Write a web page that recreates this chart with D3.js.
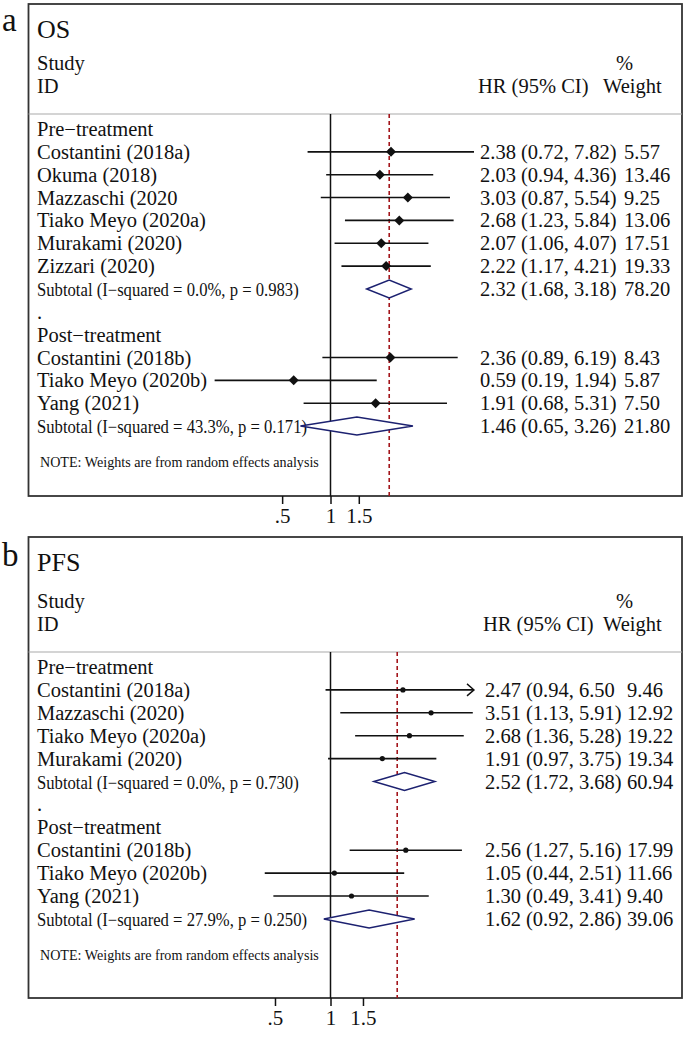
<!DOCTYPE html>
<html>
<head>
<meta charset="utf-8">
<script src="https://cdn.jsdelivr.net/npm/d3@7/dist/d3.min.js"></script>
<style>
  html, body { margin: 0; padding: 0; background: #fff; }
  svg { display: block; }
  text { font-family: "Liberation Serif", "Times New Roman", serif; fill: #111; }
</style>
</head>
<body>
<svg id="chart" width="685" height="1051"></svg>
<script>
// ---------- DATA ----------
const osLabels = ["Pre−treatment", "Costantini (2018a)", "Okuma  (2018)", "Mazzaschi (2020", "Tiako Meyo (2020a)", "Murakami (2020)", "Zizzari (2020)", "Subtotal  (I−squared = 0.0%, p = 0.983)", ".", "Post−treatment", "Costantini (2018b)", "Tiako Meyo (2020b)", "Yang (2021)", "Subtotal  (I−squared = 43.3%, p = 0.171)"];
const osTypes = ["group", "study", "study", "study", "study", "study", "study", "subtotal", "dot", "group", "study", "study", "study", "subtotal"];
const osHR = [null, 2.38, 2.03, 3.03, 2.68, 2.07, 2.22, 2.32, null, null, 2.36, 0.59, 1.91, 1.46];
const osLow = [null, 0.72, 0.94, 0.87, 1.23, 1.06, 1.17, 1.68, null, null, 0.89, 0.19, 0.68, 0.65];
const osHigh = [null, 7.82, 4.36, 5.54, 5.84, 4.07, 4.21, 3.18, null, null, 6.19, 1.94, 5.31, 3.26];
const osCI = ["", "2.38 (0.72, 7.82)", "2.03 (0.94, 4.36)", "3.03 (0.87, 5.54)", "2.68 (1.23, 5.84)", "2.07 (1.06, 4.07)", "2.22 (1.17, 4.21)", "2.32 (1.68, 3.18)", "", "", "2.36 (0.89, 6.19)", "0.59 (0.19, 1.94)", "1.91 (0.68, 5.31)", "1.46 (0.65, 3.26)"];
const osWeight = ["", "5.57", "13.46", "9.25", "13.06", "17.51", "19.33", "78.20", "", "", "8.43", "5.87", "7.50", "21.80"];
const osOverall = 2.32;
const osAxisMax = 7.82;

const pfsLabels = ["Pre−treatment", "Costantini (2018a)", "Mazzaschi (2020)", "Tiako Meyo (2020a)", "Murakami (2020)", "Subtotal  (I−squared = 0.0%, p = 0.730)", ".", "Post−treatment", "Costantini (2018b)", "Tiako Meyo (2020b)", "Yang (2021)", "Subtotal  (I−squared = 27.9%, p = 0.250)"];
const pfsTypes = ["group", "study", "study", "study", "study", "subtotal", "dot", "group", "study", "study", "study", "subtotal"];
const pfsHR = [null, 2.47, 3.51, 2.68, 1.91, 2.52, null, null, 2.56, 1.05, 1.30, 1.62];
const pfsLow = [null, 0.94, 1.13, 1.36, 0.97, 1.72, null, null, 1.27, 0.44, 0.49, 0.92];
const pfsHigh = [null, 6.50, 5.91, 5.28, 3.75, 3.68, null, null, 5.16, 2.51, 3.41, 2.86];
const pfsCI = ["", "2.47 (0.94, 6.50", "3.51 (1.13, 5.91)", "2.68 (1.36, 5.28)", "1.91 (0.97, 3.75)", "2.52 (1.72, 3.68)", "", "", "2.56 (1.27, 5.16)", "1.05 (0.44, 2.51)", "1.30 (0.49, 3.41)", "1.62 (0.92, 2.86)"];
const pfsWeight = ["", "9.46", "12.92", "19.22", "19.34", "60.94", "", "", "17.99", "11.66", "9.40", "39.06"];
const pfsOverall = 2.3;
const pfsAxisMax = 6;

const tickValues = [0.5, 1, 1.5];
const tickLabels = [".5", "1", "1.5"];
const noteText = "NOTE: Weights are from random effects analysis";

// ---------- DRAW ----------
const svg = d3.select("#chart");
const FS = 20.5;

function squeeze(sel, factor) {
  sel.each(function () {
    const w = this.getComputedTextLength();
    d3.select(this).attr("textLength", w * factor).attr("lengthAdjust", "spacingAndGlyphs");
  });
}

function panel(cfg) {
  const g = svg.append("g");
  const rows = cfg.labels.map((l, i) => ({
    label: l, type: cfg.types[i], hr: cfg.hr[i], lo: cfg.lo[i], hi: cfg.hi[i],
    ci: cfg.ci[i], w: cfg.w[i], i
  }));
  const x = d3.scaleLog().domain([1 / cfg.axisMax, cfg.axisMax]).range([187, 474]);
  const y = i => cfg.rowStart + i * cfg.rowStep; // baseline of row text
  const boxL = 28.5, boxR = 682;

  // box
  g.append("rect").attr("x", boxL).attr("y", cfg.top).attr("width", boxR - boxL).attr("height", cfg.bottom - cfg.top)
    .attr("fill", "none").attr("stroke", "#333").attr("stroke-width", 1.8);
  // header separator
  g.append("line").attr("x1", boxL).attr("x2", boxR).attr("y1", cfg.sep).attr("y2", cfg.sep)
    .attr("stroke", "#aaa").attr("stroke-width", 1.2);

  // panel letter & title
  g.append("text").attr("x", 2).attr("y", cfg.top + cfg.letterDy).attr("font-size", 33).text(cfg.letter);
  g.append("text").attr("x", 37).attr("y", cfg.top + 34).attr("font-size", 26).text(cfg.title);
  g.append("text").attr("x", 37).attr("y", cfg.sep - 44).attr("font-size", FS).text("Study");
  g.append("text").attr("x", 37).attr("y", cfg.sep - 21).attr("font-size", FS).text("ID");
  g.append("text").attr("x", cfg.ciX - 2).attr("y", cfg.sep - 21).attr("font-size", FS).text("HR (95% CI)");
  g.append("text").attr("x", 616).attr("y", cfg.sep - 44).attr("font-size", FS).text("%");
  g.append("text").attr("x", 603).attr("y", cfg.sep - 21).attr("font-size", FS).text("Weight");

  // vertical no-effect line
  g.append("line").attr("x1", x(1)).attr("x2", x(1)).attr("y1", cfg.sep).attr("y2", cfg.bottom)
    .attr("stroke", "#111").attr("stroke-width", 1.5);
  // overall dashed line
  g.append("line").attr("x1", x(cfg.overall)).attr("x2", x(cfg.overall)).attr("y1", cfg.sep).attr("y2", cfg.bottom)
    .attr("stroke", "#a3151b").attr("stroke-width", 1.6).attr("stroke-dasharray", "4,3");

  // labels
  const labs = g.selectAll("text.lab").data(rows).join("text").attr("class", "lab")
    .attr("x", 37).attr("y", d => y(d.i))
    .attr("font-size", d => d.type === "subtotal" ? 18 : FS)
    .text(d => d.label);
  squeeze(labs.filter(d => d.type === "subtotal"), 0.925);

  // CI text & weights
  g.selectAll("text.ci").data(rows.filter(d => d.ci)).join("text").attr("class", "ci")
    .attr("x", cfg.ciX).attr("y", d => y(d.i)).attr("font-size", FS).text(d => d.ci);
  g.selectAll("text.w").data(rows.filter(d => d.w)).join("text").attr("class", "w")
    .attr("x", cfg.wX).attr("y", d => y(d.i)).attr("font-size", FS).text(d => d.w);

  const studies = rows.filter(d => d.type === "study");
  const maxV = cfg.axisMax;
  // CI lines
  g.selectAll("line.ciline").data(studies).join("line").attr("class", "ciline")
    .attr("x1", d => x(Math.max(d.lo, 1 / maxV))).attr("x2", d => x(Math.min(d.hi, maxV)))
    .attr("y1", d => y(d.i) - 7).attr("y2", d => y(d.i) - 7)
    .attr("stroke", "#111").attr("stroke-width", 1.6);
  // arrows for clipped CI
  g.selectAll("path.arrow").data(studies.filter(d => d.hi > maxV)).join("path").attr("class", "arrow")
    .attr("d", d => { const ax = x(maxV), ay = y(d.i) - 7; return `M${ax - 7},${ay - 6}L${ax},${ay}L${ax - 7},${ay + 6}`; })
    .attr("fill", "none").attr("stroke", "#111").attr("stroke-width", 1.4);
  // point estimates
  if (cfg.marker === "diamond") {
    g.selectAll("path.pt").data(studies).join("path").attr("class", "pt")
      .attr("d", d => { const px = x(d.hr), py = y(d.i) - 7; return `M${px - 5},${py}L${px},${py - 5}L${px + 5},${py}L${px},${py + 5}Z`; })
      .attr("fill", "#111");
  } else {
    g.selectAll("circle.pt").data(studies).join("circle").attr("class", "pt")
      .attr("cx", d => x(d.hr)).attr("cy", d => y(d.i) - 7).attr("r", 2.6).attr("fill", "#111");
  }
  // subtotal diamonds
  g.selectAll("path.sub").data(rows.filter(d => d.type === "subtotal")).join("path").attr("class", "sub")
    .attr("d", d => { const py = y(d.i) - 7; return `M${x(d.lo)},${py}L${x(d.hr)},${py - 9}L${x(d.hi)},${py}L${x(d.hr)},${py + 9}Z`; })
    .attr("fill", "#fff").attr("stroke", "#1c2170").attr("stroke-width", 1.5);

  // note
  const note = g.append("text").attr("x", 40).attr("y", cfg.noteY).attr("font-size", 15.5).text(noteText);
  squeeze(note, 0.91);

  // axis
  const axis = d3.axisBottom(x).tickValues(tickValues).tickFormat((d, i) => tickLabels[i]).tickSize(8).tickPadding(4);
  const ag = g.append("g").attr("transform", `translate(0,${cfg.bottom})`).call(axis);
  ag.select(".domain").remove();
  ag.selectAll(".tick line").attr("stroke", "#111").attr("stroke-width", 1.5);
  ag.selectAll(".tick text").attr("font-size", 21).attr("font-family", "Liberation Serif, serif").attr("fill", "#111");
}

panel({
  letter: "a", title: "OS", top: 4, letterDy: 27, sep: 114, bottom: 496, rowStart: 136, rowStep: 22.85, noteY: 467,
  labels: osLabels, types: osTypes, hr: osHR, lo: osLow, hi: osHigh, ci: osCI, w: osWeight,
  overall: osOverall, axisMax: osAxisMax, marker: "diamond", ciX: 480, wX: 624
});
panel({
  letter: "b", title: "PFS", top: 537, letterDy: 29, sep: 652, bottom: 998, rowStart: 674, rowStep: 22.9, noteY: 960,
  labels: pfsLabels, types: pfsTypes, hr: pfsHR, lo: pfsLow, hi: pfsHigh, ci: pfsCI, w: pfsWeight,
  overall: pfsOverall, axisMax: pfsAxisMax, marker: "dot", ciX: 485, wX: 627
});
</script>
</body>
</html>
